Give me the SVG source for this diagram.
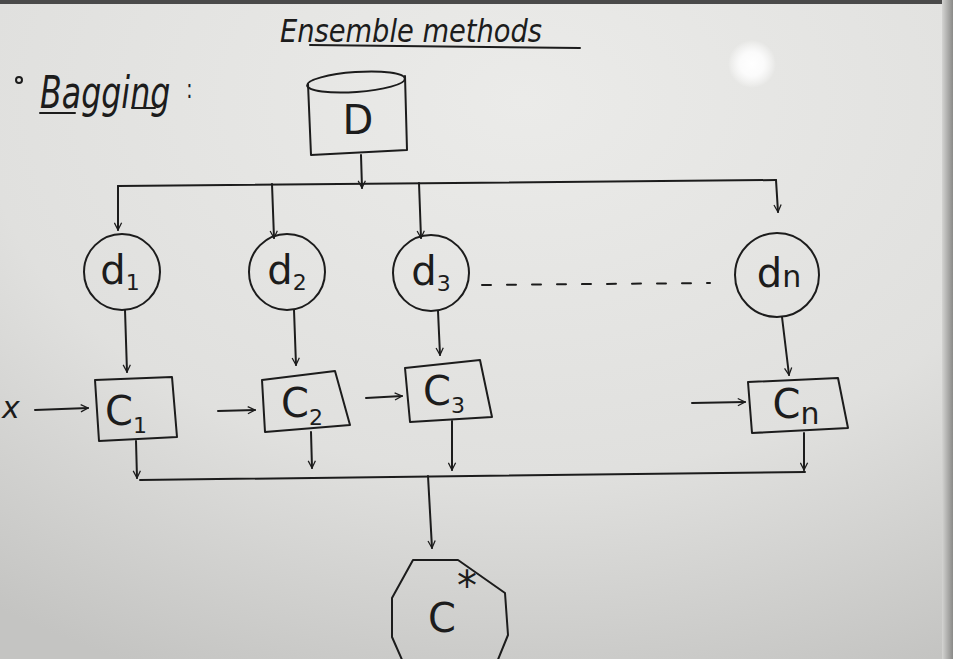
<svg xmlns="http://www.w3.org/2000/svg" width="953" height="659" viewBox="0 0 953 659">
<defs>
<radialGradient id="bg" cx="0.55" cy="0.15" r="0.95">
<stop offset="0" stop-color="#ebebe9"/>
<stop offset="0.6" stop-color="#e0e0de"/>
<stop offset="1" stop-color="#c4c4c2"/>
</radialGradient>
<radialGradient id="glow" cx="0.5" cy="0.5" r="0.5">
<stop offset="0" stop-color="#ffffff"/>
<stop offset="0.5" stop-color="#fbfbfb"/>
<stop offset="1" stop-color="#ffffff" stop-opacity="0"/>
</radialGradient>
<linearGradient id="frame" x1="0" y1="0" x2="1" y2="0">
<stop offset="0" stop-color="#d4d4d2"/>
<stop offset="1" stop-color="#8a8a88"/>
</linearGradient>
<marker id="ah" viewBox="0 0 10 10" refX="9" refY="5" markerWidth="9" markerHeight="9" markerUnits="userSpaceOnUse" orient="auto">
<path d="M1,1 L9,5 L1,9" fill="none" stroke="#1c1c1c" stroke-width="1.4"/>
</marker>
</defs>
<style>
.ln{fill:none;stroke:#1c1c1c;stroke-width:2;stroke-linejoin:round;stroke-linecap:round}
.tx{font-family:"DejaVu Sans","Liberation Sans",sans-serif;fill:#1c1c1c}
.lbl{font-family:"DejaVu Sans","Liberation Sans",sans-serif;fill:#1c1c1c;font-size:40px;text-anchor:middle}
.sub{font-size:22px}
</style>
<rect width="953" height="659" fill="url(#bg)"/>
<rect x="0" y="0" width="953" height="4" fill="#4a4a4a"/>
<rect x="942" y="0" width="11" height="659" fill="url(#frame)"/>
<circle cx="752" cy="64" r="24" fill="url(#glow)"/>

<g id="title">
<text class="tx" x="280" y="42" font-size="32" font-style="italic" textLength="262" lengthAdjust="spacingAndGlyphs">Ensemble methods</text>
<path class="ln" d="M310,45 L580,48" stroke-width="1.6"/>
</g>
<g id="bagging">
<circle cx="19" cy="80" r="3" class="ln" stroke-width="1.4"/>
<text class="tx" transform="scale(0.72,1)" x="55.6" y="108" font-size="44" font-style="italic">Bagging<tspan dx="22" dy="-10" font-size="26" font-style="normal">:</tspan></text>
<path class="ln" d="M40,113 L75,113 M132,108 L155,108" stroke-width="1.6"/>
</g>

<g id="nodeD">
<path class="ln" d="M308,84 L311,155 L407,150 L405,76"/>
<ellipse class="ln" cx="356" cy="82" rx="49" ry="10" transform="rotate(-4 356 82)"/>
<text class="lbl" x="358" y="134">D</text>
</g>

<g id="d1"><circle class="ln" cx="122" cy="272" r="38"/><text class="lbl" x="120" y="284" font-size="36">d<tspan class="sub" dy="6">1</tspan></text></g>
<g id="d2"><circle class="ln" cx="287" cy="272" r="38"/><text class="lbl" x="287" y="284" font-size="36">d<tspan class="sub" dy="6">2</tspan></text></g>
<g id="d3"><circle class="ln" cx="431" cy="273" r="38"/><text class="lbl" x="431" y="285" font-size="36">d<tspan class="sub" dy="6">3</tspan></text></g>
<g id="dn"><circle class="ln" cx="777" cy="275" r="42"/><text class="lbl" x="779" y="287" font-size="36">d<tspan font-size="30">n</tspan></text></g>

<g id="C1"><path class="ln" d="M95,380 L172,377 L177,437 L99,441 Z"/><text class="lbl" x="126" y="425">C<tspan class="sub" dy="8">1</tspan></text></g>
<g id="C2"><path class="ln" d="M262,380 L335,371 L350,425 L265,432 Z"/><text class="lbl" x="302" y="417">C<tspan class="sub" dy="8">2</tspan></text></g>
<g id="C3"><path class="ln" d="M405,368 L480,360 L492,417 L410,422 Z"/><text class="lbl" x="444" y="405">C<tspan class="sub" dy="8">3</tspan></text></g>
<g id="Cn"><path class="ln" d="M748,382 L838,378 L848,428 L752,433 Z"/><text class="lbl" x="796" y="418">C<tspan font-size="30" dy="6">n</tspan></text></g>

<g id="Cstar">
<path class="ln" d="M413,560 L458,560 L505,593 L508,635 L497,662 L403,662 L392,637 L392,598 Z"/>
<text class="lbl" x="442" y="632" font-size="48">C</text>
<text class="lbl" x="467" y="600" font-size="28">*</text>
</g>

<g id="x-label"><text class="tx" x="2" y="418" font-size="30" font-style="italic">x</text></g>

<g id="connectors" class="ln">
<path class="ln" d="M361,155 L362,188" marker-end="url(#ah)"/>
<path class="ln" d="M118,186 L776,180"/>
<path class="ln" d="M118,186 L118,230" marker-end="url(#ah)"/>
<path class="ln" d="M272,184 L274,238" marker-end="url(#ah)"/>
<path class="ln" d="M419,183 L421,238" marker-end="url(#ah)"/>
<path class="ln" d="M776,180 L778,212" marker-end="url(#ah)"/>
<path class="ln" d="M482,285 L710,283" stroke-dasharray="9,16" stroke-width="1.8"/>
<path class="ln" d="M125,310 L127,372" marker-end="url(#ah)"/>
<path class="ln" d="M294,310 L296,365" marker-end="url(#ah)"/>
<path class="ln" d="M438,311 L440,355" marker-end="url(#ah)"/>
<path class="ln" d="M782,317 L789,375" marker-end="url(#ah)"/>
<path class="ln" d="M35,410 L88,408" marker-end="url(#ah)"/>
<path class="ln" d="M218,411 L255,410" marker-end="url(#ah)"/>
<path class="ln" d="M366,398 L402,396" marker-end="url(#ah)"/>
<path class="ln" d="M692,403 L745,402" marker-end="url(#ah)"/>
<path class="ln" d="M136,441 L137,478" marker-end="url(#ah)"/>
<path class="ln" d="M311,432 L312,468" marker-end="url(#ah)"/>
<path class="ln" d="M452,421 L452,470" marker-end="url(#ah)"/>
<path class="ln" d="M804,433 L804,470" marker-end="url(#ah)"/>
<path class="ln" d="M140,480 L805,472"/>
<path class="ln" d="M428,476 L432,548" marker-end="url(#ah)"/>
</g>
</svg>
